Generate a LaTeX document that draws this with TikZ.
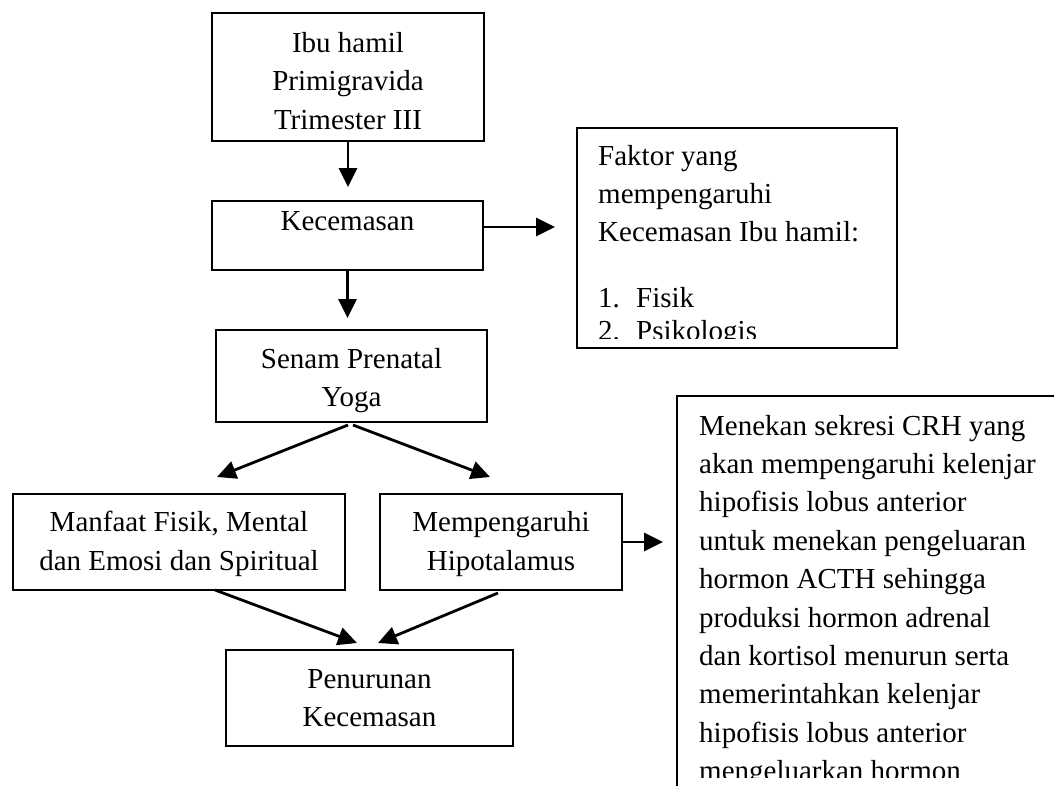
\documentclass[tikz,border=0pt]{standalone}
\usepackage{fontspec}
\setmainfont{Liberation Serif}
\usetikzlibrary{arrows.meta,calc}
\begin{document}
\begin{tikzpicture}[x=1pt,y=-1pt,
  boxnode/.style={draw=black, line width=2.2pt, rectangle, inner sep=0pt, outer sep=0pt},
  txt/.style={inner sep=0pt, font=\fontsize{29}{38.5}\selectfont, align=center, anchor=north},
  ltxt/.style={inner sep=0pt, font=\fontsize{29}{38.4}\selectfont, align=left, anchor=north west},
  conn/.style={line width=2.8pt, -{Triangle[length=19pt,width=18pt]}}
]
\useasboundingbox (0,0) rectangle (1054,785);
\clip (0,0) rectangle (1054,785);
\fill[white] (0,0) rectangle (1054,785);

% boxes
\node[boxnode, minimum width=272pt, minimum height=128pt] (b1) at (348,77) {};
\node[boxnode, minimum width=271pt, minimum height=69pt] (b2) at (347.5,235.5) {};
\node[boxnode, minimum width=271pt, minimum height=92pt] (b3) at (351.5,376) {};
\node[boxnode, minimum width=332pt, minimum height=96pt] (manf) at (179,542) {};
\node[boxnode, minimum width=242pt, minimum height=96pt] (memp) at (501,542) {};
\node[boxnode, minimum width=287pt, minimum height=96pt] (pen) at (369.5,698) {};
\node[boxnode, minimum width=320pt, minimum height=220pt] (fak) at (737,238) {};
\node[boxnode, minimum width=443pt, minimum height=464pt] (big) at (898.5,628) {};

% texts
\node[txt] (b1t) at (348,25) {\strut Ibu hamil\\Primigravida\\Trimester III};
\node[txt] (b2t) at (347.5,203) {\strut Kecemasan};
\node[txt] (b3t) at (351.5,341) {\strut Senam Prenatal\\Yoga};
\node[txt] (manft) at (179,504.5) {\strut Manfaat Fisik, Mental\\dan Emosi dan Spiritual};
\node[txt] (mempt) at (501,504.5) {\strut Mempengaruhi\\Hipotalamus};
\node[txt] (pent) at (369.5,661) {\strut Penurunan\\Kecemasan};

\begin{scope}
  \clip (fak.north west) rectangle ($(fak.south east)+(0,-10)$);
  \node[ltxt] (fakt) at (598,138) {\strut Faktor yang\\mempengaruhi\\Kecemasan Ibu hamil:\\[27.5pt]\makebox[38pt][l]{1.}Fisik\\[-5.5pt]\makebox[38pt][l]{2.}Psikologis};
\end{scope}

\begin{scope}
  \clip (big.north west) rectangle (1054,777);
  \node[ltxt] (bigt) at (699,408) {\strut Menekan sekresi CRH yang\\akan mempengaruhi kelenjar\\hipofisis lobus anterior\\untuk menekan pengeluaran\\hormon ACTH sehingga\\produksi hormon adrenal\\dan kortisol menurun serta\\memerintahkan kelenjar\\hipofisis lobus anterior\\mengeluarkan hormon};
\end{scope}

% connectors
\draw[conn, shorten >=14pt] (b1.south) -- (b1.south |- b2.north);
\draw[conn, shorten >=12pt] (b2.south) -- (b2.south |- b3.north);
\draw[conn, shorten >=22pt] ($(b2.east)+(0,-8.5)$) -- ($(fak.west |- b2.east)+(0,-8.5)$);
\draw[conn] ($(b3.south)+(-3.5,3)$) -- ($(manf.north)+(38,-17)$);
\draw[conn] ($(b3.south)+(1.5,3)$) -- ($(memp.north)+(-11,-17)$);
\draw[conn] ($(manf.south)+(36,0)$) -- ($(pen.north)+(-12.5,-7)$);
\draw[conn] ($(memp.south)+(-3,3)$) -- ($(pen.north)+(8.5,-7)$);
\draw[conn, shorten >=14pt] (memp.east) -- (memp.east -| big.west);
\end{tikzpicture}
\end{document}
